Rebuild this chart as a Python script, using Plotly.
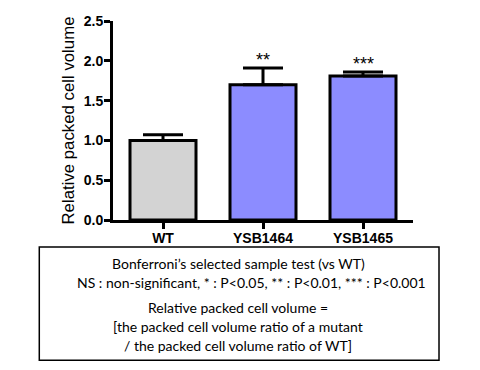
import plotly.graph_objects as go

categories = ["WT", "YSB1464", "YSB1465"]
values = [1.0, 1.70, 1.81]
errors = [0.07, 0.21, 0.05]
stars = ["", "**", "***"]
bar_colors = ["#D3D3D3", "#8C8CFF", "#8C8CFF"]
y_ticks = [0.0, 0.5, 1.0, 1.5, 2.0, 2.5]
y_title = "Relative packed cell volume"
note_lines = [
    "Bonferroni\u2019s selected sample test (vs WT)",
    "NS : non-significant, * : P<0.05, ** : P<0.01, *** : P<0.001",
    "Relative packed cell volume =",
    "[the packed cell volume ratio of a mutant",
    "/ the packed cell volume ratio of WT]",
]

fig = go.Figure()
fig.add_trace(go.Bar(
    x=categories, y=values, width=0.66,
    marker=dict(color=bar_colors, line=dict(color="black", width=3)),
    error_y=dict(type="data", array=errors, arrayminus=[0] * len(errors),
                 symmetric=False, color="black", thickness=3, width=20),
    showlegend=False,
))

for c, v, e, s in zip(categories, values, errors, stars):
    if s:
        fig.add_annotation(x=c, y=v + e, text=s, showarrow=False,
                           xref="x", yref="y", yanchor="middle", yshift=8,
                           font=dict(family="Arial, Liberation Sans", size=18, color="black"))

# note box
fig.add_shape(type="rect", xref="paper", yref="paper",
              x0=-0.2457, x1=1.0867, y0=-0.7045, y1=-0.1355,
              line=dict(color="black", width=1.5))
note_y = [-0.2193, -0.3146, -0.4400, -0.5354, -0.6307]
note_x = [0.4167, 0.4633, 0.4167, 0.4167, 0.4167]
for t, xx, yy in zip(note_lines, note_x, note_y):
    fig.add_annotation(x=xx, y=yy, xref="paper", yref="paper", text=t,
                       showarrow=False, xanchor="center", yanchor="middle",
                       font=dict(family="Lato", size=14, color="black"))

fig.update_layout(
    width=480, height=370,
    margin=dict(l=105, r=75, t=13, b=158),
    plot_bgcolor="white", paper_bgcolor="white",
    bargap=0.34,
)
fig.update_xaxes(
    range=[-0.5, 2.5], showline=True, linewidth=3, linecolor="black",
    ticks="outside", ticklen=6, tickwidth=3, tickcolor="black",
    tickfont=dict(family="Arial, Liberation Sans", size=14, color="black", weight="bold"),
    ticklabelstandoff=-3,
    showgrid=False, zeroline=False, automargin=False,
)
fig.update_yaxes(
    range=[0, 2.5], tickvals=y_ticks, ticktext=[f"{t:.1f}" for t in y_ticks],
    showline=True, linewidth=3, linecolor="black",
    ticks="outside", ticklen=6, tickwidth=3, tickcolor="black",
    tickfont=dict(family="Arial, Liberation Sans", size=14, color="black", weight="bold"),
    ticklabelstandoff=-2,
    title=dict(text=y_title, font=dict(family="Arial, Liberation Sans", size=16.8, color="black"), standoff=5),
    showgrid=False, zeroline=False, automargin=False,
)

fig.write_html("out.html")
